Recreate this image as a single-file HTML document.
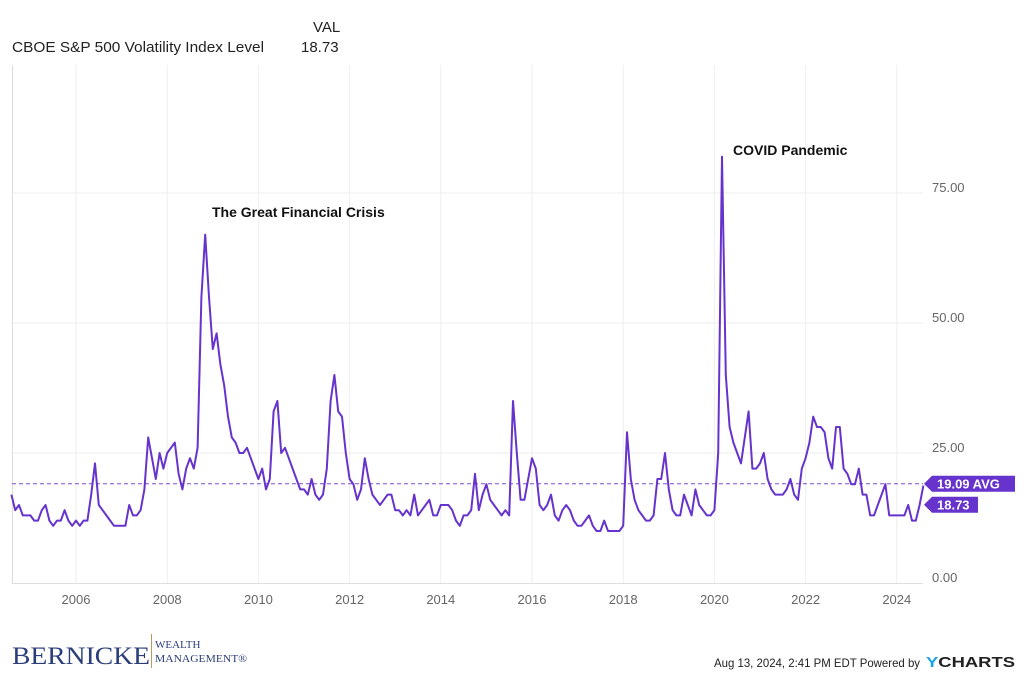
<!DOCTYPE html>
<html><head><meta charset="utf-8"><style>
body{margin:0;background:#fff;font-family:"Liberation Sans",sans-serif;}
svg{display:block}
</style></head><body>
<svg id="c" width="1024" height="677">
<text x="313" y="32" font-size="15" fill="#222">VAL</text>
<text x="12" y="52" font-size="15" fill="#222" textLength="252" lengthAdjust="spacingAndGlyphs">CBOE S&amp;P 500 Volatility Index Level</text>
<text x="301" y="52" font-size="15" fill="#222">18.73</text>
<g id="grid"></g>
<g id="series"></g>
<text x="212" y="217" font-size="14" font-weight="bold" fill="#111">The Great Financial Crisis</text>
<text x="733" y="155" font-size="14" font-weight="bold" fill="#111">COVID Pandemic</text>
<g>
<text x="12" y="664" font-family="Liberation Serif,serif" font-size="25" fill="#2c3e7a" textLength="138" lengthAdjust="spacingAndGlyphs">BERNICKE</text>
<rect x="151" y="634" width="1" height="34" fill="#b89a60"/>
<text x="155" y="648" font-family="Liberation Serif,serif" font-size="11" fill="#2c3e7a">WEALTH</text>
<text x="155" y="662" font-family="Liberation Serif,serif" font-size="11" fill="#2c3e7a" textLength="92" lengthAdjust="spacingAndGlyphs">MANAGEMENT®</text>
</g>
<text x="714" y="667" font-size="12" fill="#222" textLength="206" lengthAdjust="spacingAndGlyphs">Aug 13, 2024, 2:41 PM EDT Powered by</text>
<text x="926" y="667" font-size="15" font-weight="bold" fill="#222" textLength="89" lengthAdjust="spacingAndGlyphs"><tspan fill="#1aa3e8">Y</tspan>CHARTS</text>
</svg>
<script>
const startYear = 2004 + 7/12;
const values = [17,14,15,13,13,
13,12,12,14,15,12,11,12,12,14,12,11,
12,11,12,12,17,23,15,14,13,12,11,11,
11,11,15,13,13,14,18,28,24,20,25,22,
25,26,27,21,18,22,24,22,26,55,67,55,
45,48,42,38,32,28,27,25,25,26,24,22,
20,22,18,20,33,35,25,26,24,22,20,18,
18,17,20,17,16,17,22,35,40,33,32,25,
20,19,16,18,24,20,17,16,15,16,17,17,
14,14,13,14,13,17,13,14,15,16,13,13,
15,15,15,14,12,11,13,13,14,21,14,17,
19,16,15,14,13,14,13,35,25,16,16,20,
24,22,15,14,15,17,13,12,14,15,14,12,
11,11,12,13,11,10,10,12,10,10,10,10,
11,29,20,16,14,13,12,12,13,20,20,25,
18,14,13,13,17,15,13,18,15,14,13,13,
14,25,82,40,30,27,25,23,28,33,22,22,
23,25,20,18,17,17,17,18,20,17,16,22,
24,27,32,30,30,29,24,22,30,30,22,21,
19,19,22,17,17,13,13,15,17,19,13,13,
13,13,13,15,12,12,15,18.73];
const yTicks = [0,25,50,75];
const yTickLabels = ["0.00","25.00","50.00","75.00"];
const xTicks = [2006,2008,2010,2012,2014,2016,2018,2020,2022,2024];
const avgValue = [19.09];
const lastValue = [18.73];
const X = t => 76 + (t-2006)*45.6;
const Y = v => 583 - v*5.2;
const NS="http://www.w3.org/2000/svg";
const grid=document.getElementById('grid'), ser=document.getElementById('series');
function mk(tag,attrs,parent){const e=document.createElementNS(NS,tag);for(const k in attrs)e.setAttribute(k,attrs[k]);parent.appendChild(e);return e;}
xTicks.forEach(t=>{
  const l=mk('line',{x1:X(t),x2:X(t),y1:65,y2:583,stroke:'#eee'},grid);
  
  
  const tx=mk('text',{x:X(t),y:604,'text-anchor':'middle','font-size':13,fill:'#666'},grid);
  tx.textContent=t;
  
  
});
yTicks.forEach((v,i)=>{
  if(v>0){const l=mk('line',{x1:12,x2:923,y1:Y(v),y2:Y(v),stroke:'#eee'},grid);
  
  }
  const tx=mk('text',{x:932,y:Y(v)-1,'font-size':13,fill:'#666'},grid);
  tx.textContent=yTickLabels[i];
  
  
});
const ax=mk('path',{d:'M12.5 65V583.5H923',fill:'none',stroke:'#ddd'},grid);


const avg=mk('line',{x1:12,x2:923,y1:Y(avgValue[0]),y2:Y(avgValue[0]),stroke:'#7b4fd6','stroke-dasharray':'4 3'},ser);


const pts=values.map((v,i)=>X(startYear+i/12)+','+Y(v)).join(' ');
const pl=mk('polyline',{points:pts,fill:'none',stroke:'#6633cc','stroke-width':2,'stroke-linejoin':'round'},ser);


function flag(y,w,label,name){
  const g=mk('g',{},ser);
  
  
  mk('path',{d:`M924 ${y}L932 ${y-8}H${932+w}V${y+8}H932Z`,fill:'#6633cc'},g);
  const t=mk('text',{x:937,y:y+5,'font-size':13,'font-weight':'bold',fill:'#fff'},g);
  t.textContent=label;
}
flag(Y(avgValue[0]),83,avgValue[0].toFixed(2)+' AVG','average-flag');
flag(Y(avgValue[0])+21,46,lastValue[0].toFixed(2),'last-value-flag');
</script>
</body></html>
